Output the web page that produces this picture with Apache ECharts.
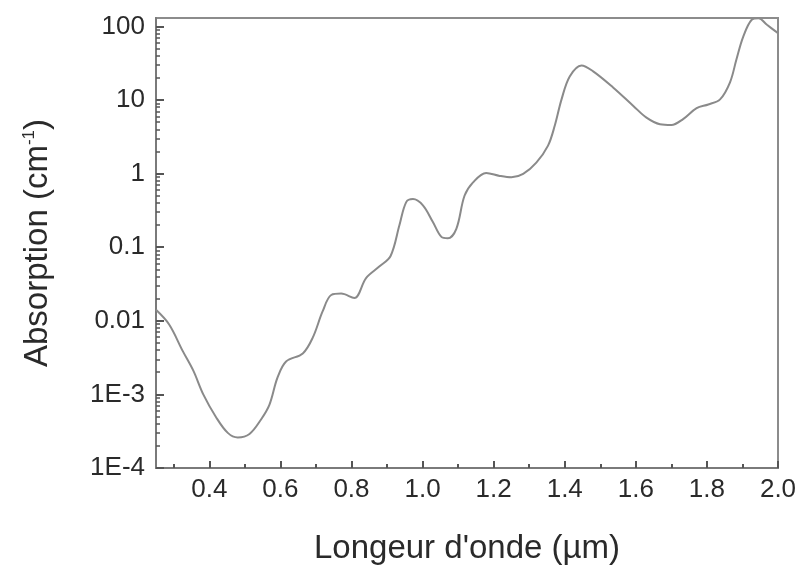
<!DOCTYPE html>
<html>
<head>
<meta charset="utf-8">
<script src="https://cdn.jsdelivr.net/npm/echarts@6/dist/echarts.min.js"></script>
<style>html,body{margin:0;padding:0;background:#fff;}#chart{width:803px;height:566px;}</style>
</head>
<body>
<div id="chart"></div>
<script>
// Wavelength (µm)
const wavelength = [0.25, 0.287, 0.325, 0.355, 0.383, 0.419, 0.452, 0.48, 0.513, 0.546, 0.569, 0.592, 0.616, 0.663, 0.691, 0.719, 0.743, 0.771, 0.808, 0.841, 0.879, 0.91, 0.935, 0.954, 0.973, 1.001, 1.029, 1.053, 1.071, 1.095, 1.118, 1.142, 1.179, 1.217, 1.25, 1.283, 1.32, 1.353, 1.372, 1.391, 1.414, 1.447, 1.48, 1.536, 1.593, 1.63, 1.668, 1.7, 1.733, 1.771, 1.804, 1.837, 1.865, 1.883, 1.902, 1.926, 1.945, 1.969, 2.0];
// Absorption (cm^-1)
const absorption = [0.0141, 0.0089, 0.0039, 0.0021, 0.001, 0.00049, 0.0003, 0.00026, 0.00029, 0.00046, 0.00072, 0.0017, 0.0028, 0.0036, 0.0059, 0.0135, 0.0224, 0.0234, 0.0204, 0.038, 0.055, 0.076, 0.2, 0.41, 0.45, 0.37, 0.22, 0.138, 0.132, 0.178, 0.5, 0.76, 1.02, 0.93, 0.89, 0.99, 1.41, 2.4, 4.5, 10.2, 20.9, 29.5, 24.5, 14.8, 8.3, 5.75, 4.68, 4.57, 5.5, 7.76, 8.7, 10.2, 17.4, 35.5, 72, 123, 129, 105, 81];
// Axis ticks and labels
const xLabelValues = [0.4, 0.6, 0.8, 1.0, 1.2, 1.4, 1.6, 1.8, 2.0];
const xMinorTickValues = [0.3, 0.5, 0.7, 0.9, 1.1, 1.3, 1.5, 1.7, 1.9];
const yMin = 1e-4;
const yMax = 130;
const yMinorMultipliers = [2, 3, 4, 5, 6, 7, 8, 9];
const yDecades = [-4, -3, -2, -1, 0, 1, 2];

const yMinorTickExponents = [];
yDecades.forEach(d => yMinorMultipliers.forEach(m => {
  const e = d + Math.log10(m);
  if (e < Math.log10(yMax)) yMinorTickExponents.push(e);
}));

const seriesData = wavelength.map((w, i) => [w, absorption[i]]);

const font = 'Liberation Sans, Arial, sans-serif';
const chart = echarts.init(document.getElementById('chart'), null, {renderer: 'canvas'});
chart.setOption({
  animation: false,
  backgroundColor: '#ffffff',
  grid: {left: 156, right: 25, top: 18, bottom: 98, outerBoundsMode: 'none', containLabel: false,
    show: true, borderColor: '#8c8c8c', borderWidth: 2, backgroundColor: 'transparent'},
  xAxis: [{
    type: 'value', min: 0.25, max: 2.0, position: 'bottom',
    axisLine: {show: true, onZero: false, lineStyle: {color: '#7a7a7a', width: 2}},
    axisTick: {show: true, inside: true, length: 7, customValues: xLabelValues, lineStyle: {color: '#555', width: 2}},
    axisLabel: {customValues: xLabelValues, formatter: v => v.toFixed(1), fontSize: 26, color: '#2a2a2a', margin: 9, fontFamily: font},
    splitLine: {show: false},
    name: "Longeur d'onde (µm)", nameLocation: 'middle', nameGap: 64,
    nameTextStyle: {fontSize: 33, color: '#2a2a2a', fontFamily: font}
  }, {
    type: 'value', min: 0.25, max: 2.0, position: 'bottom',
    axisLine: {show: false, onZero: false},
    axisTick: {show: true, inside: true, length: 4, customValues: xMinorTickValues, lineStyle: {color: '#555', width: 2}},
    axisLabel: {show: false},
    splitLine: {show: false}
  }],
  yAxis: [{
    type: 'log', logBase: 10, min: yMin, max: yMax, position: 'left',
    axisLine: {show: true, onZero: false, lineStyle: {color: '#7a7a7a', width: 2}},
    axisTick: {show: true, inside: true, length: 8, lineStyle: {color: '#555', width: 2}},
    axisLabel: {
      fontSize: 26, color: '#2a2a2a', margin: 11, fontFamily: font, showMaxLabel: false,
      formatter: v => {
        const e = Math.log10(v);
        if (Math.abs(e - Math.round(e)) > 1e-6) return '';
        const n = Math.round(e);
        if (n <= -3) return '1E' + n;
        return String(parseFloat(Math.pow(10, n).toPrecision(3)));
      }
    },
    splitLine: {show: false},
    minorTick: {show: false},
    name: 'Absorption (cm{sup|-1})', nameLocation: 'middle', nameRotate: 90, nameGap: 102,
    nameTextStyle: {fontSize: 33, color: '#2a2a2a', fontFamily: font,
      rich: {sup: {fontSize: 17, color: '#2a2a2a', fontFamily: font, verticalAlign: 'top', lineHeight: 33}}}
  }, {
    type: 'value', min: -4, max: Math.log10(yMax), position: 'left',
    axisLine: {show: false, onZero: false},
    axisTick: {show: true, inside: true, length: 4, customValues: yMinorTickExponents, lineStyle: {color: '#555', width: 1.5}},
    axisLabel: {show: false},
    splitLine: {show: false}
  }],
  series: [{
    type: 'line', xAxisIndex: 0, yAxisIndex: 0,
    data: seriesData, smooth: 0.35, showSymbol: false, symbol: 'none',
    lineStyle: {color: '#8a8a8a', width: 2}
  }]
});
</script>
</body>
</html>
